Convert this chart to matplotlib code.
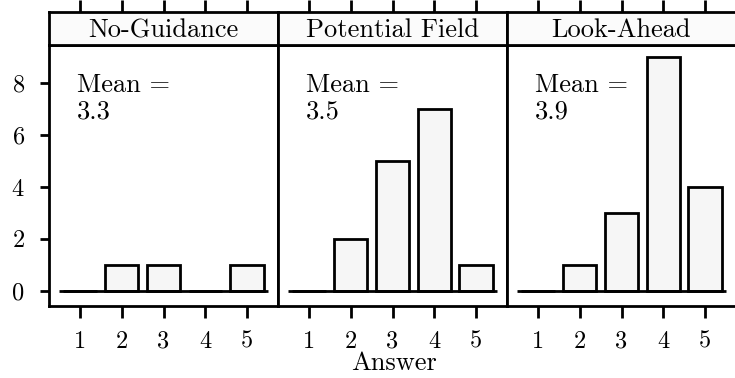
import matplotlib
matplotlib.use("Agg")
import matplotlib.pyplot as plt

panels = ["No-Guidance", "Potential Field", "Look-Ahead"]
answers = [1, 2, 3, 4, 5]
counts = {
    "No-Guidance": [0, 1, 1, 0, 1],
    "Potential Field": [0, 2, 5, 7, 1],
    "Look-Ahead": [0, 1, 3, 9, 4],
}
means = {"No-Guidance": "3.3", "Potential Field": "3.5", "Look-Ahead": "3.9"}
yticks = [0, 2, 4, 6, 8]

plt.rcParams['font.family'] = ['cmr10', 'DejaVu Serif']
plt.rcParams['axes.formatter.use_mathtext'] = True

W, H = 735, 378
fig = plt.figure(figsize=(W / 100, H / 100), dpi=100)

lw = 2.0
px = 72 / 100  # points per pixel
edges = [49, 278, 507, 736]
y_bot, y_top, strip_top = 306, 45, 12

for i, name in enumerate(panels):
    l = edges[i] / W
    w = (edges[i + 1] - edges[i]) / W
    ax = fig.add_axes([l, 1 - y_bot / H, w, (y_bot - y_top) / H])
    ax.bar(answers, counts[name], width=0.8, facecolor='#f6f6f6',
           edgecolor='black', linewidth=lw, zorder=3)
    ax.hlines(0, 0.5, 5.5, color='black', linewidth=lw, zorder=4)
    ax.set_xlim(0.26, 5.74)
    ax.set_ylim(-0.58, 9.46)
    ax.set_xticks(answers)
    ax.set_xticklabels([str(a) for a in answers])
    ax.tick_params(axis='x', direction='out', length=12 * px, width=lw,
                   labelsize=17.5, pad=9)
    if i == 0:
        ax.set_yticks(yticks)
        ax.tick_params(axis='y', direction='out', length=9 * px, width=lw,
                       labelsize=17.5, pad=11)
    else:
        ax.set_yticks([])
    for s in ax.spines.values():
        s.set_linewidth(lw)
    ax.text(0.92, 7.65, "Mean =", fontsize=19, ha='left', va='baseline')
    ax.text(0.92, 6.65, means[name], fontsize=19, ha='left', va='baseline')

    sax = fig.add_axes([l, 1 - y_top / H, w, (y_top - strip_top) / H])
    sax.set_facecolor('#fbfbfb')
    sax.set_xlim(0.26, 5.74)
    sax.set_ylim(0, 1)
    sax.set_yticks([])
    sax.set_xticks(answers)
    sax.xaxis.set_ticks_position('top')
    sax.tick_params(axis='x', direction='out', length=12 * px, width=lw,
                    labeltop=False, labelbottom=False)
    for s in sax.spines.values():
        s.set_linewidth(lw)
    sax.text(0.5, 0.45, name, transform=sax.transAxes, ha='center',
             va='center', fontsize=19)

fig.text(394 / W, 1 - 363 / H, "Answer", ha='center', va='center', fontsize=19)

fig.savefig("out.png", dpi=100)
